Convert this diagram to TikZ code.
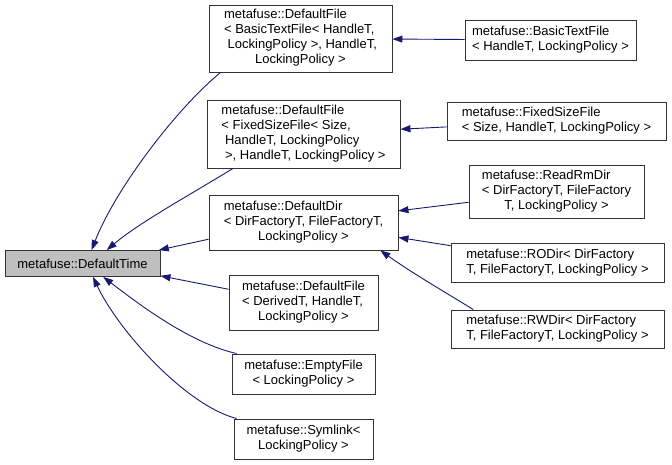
\documentclass[tikz,border=0pt]{standalone}
\usepackage{fontspec}
\setmainfont{Liberation Sans}
\usetikzlibrary{arrows.meta}
\definecolor{edgeblue}{RGB}{25,25,112}
\newcommand{\clstext}[2]{\begin{tabular}{@{}l@{}}#1\\\multicolumn{1}{@{}c@{}}{#2}\end{tabular}}
\tikzset{
  clsbox/.style={draw=black!80,line width=.9pt,fill=white,inner sep=2pt,
    font=\fontsize{13}{15}\selectfont},
  inh/.style={edgeblue,line width=.9pt,-{Triangle[length=10pt,width=7pt]}}
}

\begin{document}
\begin{tikzpicture}[x=1pt,y=-1pt]
  \useasboundingbox (0,0) rectangle (672,465);
  \node[clsbox,fill=black!25,minimum width=155pt,minimum height=26pt] (time) at (82.5,263.5) {metafuse::DefaultTime};
  \node[clsbox,minimum width=183pt,minimum height=67pt] (dfBasic) at (300.5,38.5)
    {\clstext{metafuse::DefaultFile\\< BasicTextFile< HandleT,\\\ LockingPolicy >, HandleT,}{LockingPolicy >}};
  \node[clsbox,minimum width=171pt,minimum height=40pt] (basic) at (550.5,40)
    {\clstext{metafuse::BasicTextFile}{< HandleT, LockingPolicy >}};
  \node[clsbox,minimum width=193pt,minimum height=68pt] (dfFixed) at (303.5,134)
    {\clstext{metafuse::DefaultFile\\< FixedSizeFile< Size,\\\ HandleT, LockingPolicy}{\ >, HandleT, LockingPolicy >}};
  \node[clsbox,minimum width=219pt,minimum height=38pt] (fixed) at (556.5,121.5)
    {\clstext{metafuse::FixedSizeFile}{< Size, HandleT, LockingPolicy >}};
  \node[clsbox,minimum width=189pt,minimum height=55pt] (dir) at (303.5,222.5)
    {\clstext{metafuse::DefaultDir\\< DirFactoryT, FileFactoryT,}{LockingPolicy >}};
  \node[clsbox,minimum width=175pt,minimum height=53pt] (readrm) at (556.5,191.5)
    {\clstext{metafuse::ReadRmDir\\< DirFactoryT, FileFactory}{T, LockingPolicy >}};
  \node[clsbox,minimum width=213pt,minimum height=39pt] (ro) at (557.5,262.5)
    {\clstext{metafuse::RODir< DirFactory}{T, FileFactoryT, LockingPolicy >}};
  \node[clsbox,minimum width=213pt,minimum height=38pt] (rw) at (557.5,329)
    {\clstext{metafuse::RWDir< DirFactory}{T, FileFactoryT, LockingPolicy >}};
  \node[clsbox,minimum width=149pt,minimum height=55pt] (dfDerived) at (303.5,302.5)
    {\clstext{metafuse::DefaultFile\\< DerivedT, HandleT,}{LockingPolicy >}};
  \node[clsbox,minimum width=143pt,minimum height=40pt] (empty) at (303.5,374)
    {\clstext{metafuse::EmptyFile}{< LockingPolicy >}};
  \node[clsbox,minimum width=139pt,minimum height=40pt] (symlink) at (303.5,439)
    {\clstext{metafuse::Symlink<}{LockingPolicy >}};

  \draw[inh] (basic) -- (dfBasic);
  \draw[inh] (fixed) -- (dfFixed);
  \draw[inh] (readrm) -- (dir);
  \draw[inh] (ro) -- (dir);
  \draw[inh] (rw.167) .. controls (455,298) and (415,275) .. (dir.-20);
  \draw[inh] (dfBasic.-157) .. controls (175,110) and (115,190) .. (time.56);
  \draw[inh] (dfFixed.-154) .. controls (195,192) and (140,222) .. (time.29);
  \draw[inh] (dir.-170) -- (time.10);
  \draw[inh] (dfDerived.170) -- (time.-9.5);
  \draw[inh] (empty.163) .. controls (190,343) and (140,305) .. (time.-33);
  \draw[inh] (symlink.163) .. controls (185,405) and (118,330) .. (time.-52);
\end{tikzpicture}
\end{document}
